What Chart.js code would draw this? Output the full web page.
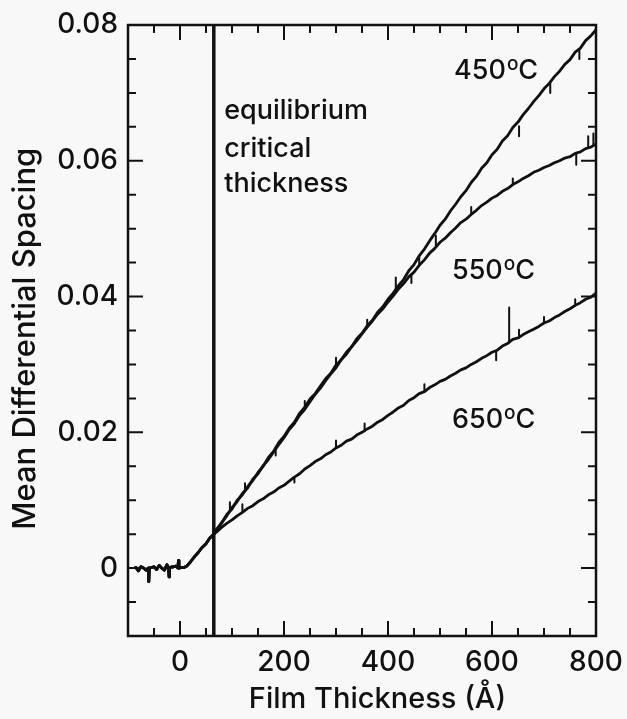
<!DOCTYPE html>
<html>
<head>
<meta charset="utf-8">
<title>Mean Differential Spacing vs Film Thickness</title>
<script src="https://cdn.jsdelivr.net/npm/chart.js@4.4.1/dist/chart.umd.min.js"></script>
<style>
  html, body { margin: 0; padding: 0; background: #f8f8f8; }
  #wrap { width: 627px; height: 719px; }
</style>
</head>
<body>
<div id="wrap"><canvas id="chart" width="627" height="719"></canvas></div>
<script>
// shared start of all three runs (flat, then the common rise)
const commonThick = [-85, -80, -75, -70, -65, -61, -60, -59, -50, -45, -40, -35, -30, -25, -22, -21,
  -20, -12, -8, -4, -3, -2, 3, 8, 13, 20, 28, 35, 42, 50, 57, 65];
const commonSpacing = [0.0001, -0.0004, 0.0002, 0, -0.0003, 0, -0.002, 0, 0.0002, -0.0002, 0.0004, 0, -0.0003, 0.0005, 0, -0.0013,
  0.0001, 0.0002, 0.0003, 0, 0.0011, 0, 0.0001, 0.0001, 0.0003, 0.0009, 0.0017, 0.0023, 0.003, 0.0036, 0.0044, 0.005];

const thicknessGrid = [
  70, 80, 90, 100, 110, 120, 130, 140, 150, 160,
  170, 180, 190, 200, 210, 220, 230, 240, 250, 260,
  270, 280, 290, 300, 310, 320, 330, 340, 350, 360,
  370, 380, 390, 400, 410, 420, 430, 440, 450, 460,
  470, 480, 490, 500, 510, 520, 530, 540, 550, 560,
  570, 580, 590, 600, 610, 620, 630, 640, 650, 660,
  670, 680, 690, 700, 710, 720, 730, 740, 750, 760,
  770, 780, 790, 800];

const spacing450 = [
  0.0057, 0.0066, 0.0079, 0.0087, 0.0100, 0.0108, 0.0120, 0.0129, 0.0141, 0.0150,
  0.0163, 0.0172, 0.0185, 0.0194, 0.0206, 0.0215, 0.0228, 0.0237, 0.0249, 0.0257,
  0.0268, 0.0279, 0.0287, 0.0299, 0.0307, 0.0318, 0.0326, 0.0338, 0.0346, 0.0357,
  0.0365, 0.0377, 0.0385, 0.0396, 0.0405, 0.0416, 0.0425, 0.0438, 0.0447, 0.0460,
  0.0470, 0.0482, 0.0493, 0.0505, 0.0514, 0.0526, 0.0536, 0.0547, 0.0556, 0.0568,
  0.0577, 0.0589, 0.0597, 0.0609, 0.0617, 0.0629, 0.0637, 0.0649, 0.0657, 0.0668,
  0.0677, 0.0687, 0.0696, 0.0706, 0.0714, 0.0724, 0.0732, 0.0742, 0.0749, 0.0760,
  0.0766, 0.0777, 0.0784, 0.0793];

const spacing550 = [
  0.0056, 0.0067, 0.0077, 0.0089, 0.0098, 0.0110, 0.0118, 0.0131, 0.0139, 0.0151,
  0.0160, 0.0171, 0.0182, 0.0192, 0.0204, 0.0213, 0.0225, 0.0234, 0.0245, 0.0256,
  0.0265, 0.0276, 0.0286, 0.0295, 0.0307, 0.0315, 0.0326, 0.0335, 0.0345, 0.0355,
  0.0364, 0.0374, 0.0382, 0.0392, 0.0401, 0.0411, 0.0419, 0.0429, 0.0436, 0.0446,
  0.0454, 0.0464, 0.0471, 0.0480, 0.0486, 0.0494, 0.0501, 0.0509, 0.0514, 0.0521,
  0.0527, 0.0534, 0.0539, 0.0545, 0.0549, 0.0555, 0.0559, 0.0565, 0.0569, 0.0574,
  0.0578, 0.0583, 0.0586, 0.0590, 0.0593, 0.0597, 0.0600, 0.0604, 0.0606, 0.0611,
  0.0613, 0.0618, 0.0620, 0.0625];

const spacing650 = [
  0.0053, 0.0060, 0.0066, 0.0071, 0.0077, 0.0082, 0.0088, 0.0092, 0.0098, 0.0102,
  0.0108, 0.0112, 0.0118, 0.0122, 0.0128, 0.0134, 0.0139, 0.0146, 0.0151, 0.0157,
  0.0161, 0.0167, 0.0171, 0.0177, 0.0181, 0.0187, 0.0190, 0.0196, 0.0200, 0.0205,
  0.0209, 0.0215, 0.0219, 0.0225, 0.0230, 0.0236, 0.0240, 0.0247, 0.0251, 0.0257,
  0.0260, 0.0266, 0.0270, 0.0275, 0.0278, 0.0283, 0.0287, 0.0292, 0.0295, 0.0300,
  0.0304, 0.0309, 0.0313, 0.0318, 0.0321, 0.0327, 0.0331, 0.0337, 0.0339, 0.0344,
  0.0348, 0.0352, 0.0356, 0.0361, 0.0364, 0.0369, 0.0373, 0.0378, 0.0382, 0.0387,
  0.0391, 0.0396, 0.0399, 0.0405];

// noise spikes: thickness, value on the curve, value at the spike tip
const spikeThick450 = [125, 184, 300, 415, 460, 652, 712, 768];
const spikeBase450 = [0.0114, 0.0178, 0.0299, 0.0410, 0.0460, 0.0651, 0.0716, 0.0765];
const spikeTip450 = [0.0125, 0.0166, 0.0310, 0.0428, 0.0447, 0.0636, 0.0700, 0.0750];

const spikeThick550 = [96, 240, 360, 445, 492, 560, 640, 762, 785, 795];
const spikeBase550 = [0.0085, 0.0234, 0.0355, 0.0432, 0.0474, 0.0521, 0.0565, 0.0611, 0.0619, 0.0622];
const spikeTip550 = [0.0097, 0.0246, 0.0366, 0.0420, 0.0490, 0.0532, 0.0574, 0.0594, 0.0636, 0.0640];

const spikeThick650 = [120, 220, 300, 355, 470, 608, 633, 652, 700, 760];
const spikeBase650 = [0.0082, 0.0134, 0.0177, 0.0202, 0.0260, 0.0320, 0.0332, 0.0340, 0.0361, 0.0387];
const spikeTip650 = [0.0094, 0.0126, 0.0188, 0.0213, 0.0271, 0.0306, 0.0384, 0.0351, 0.0370, 0.0396];

const criticalThickness = 65;

const xTickLabels = [0, 200, 400, 600, 800];
const yTickLabels = [0, 0.02, 0.04, 0.06, 0.08];
const xMinorTicks = [-50, 0, 50, 100, 150, 200, 250, 300, 350, 400, 450, 500, 550, 600, 650, 700, 750];
const yMinorTicks = [-0.005, 0, 0.005, 0.01, 0.015, 0.02, 0.025, 0.03, 0.035, 0.04, 0.045, 0.05,
  0.055, 0.06, 0.065, 0.07, 0.075];

const INK = "#111111";
const FONT = "Inter";
Chart.defaults.font.family = FONT;
Chart.defaults.color = INK;

function toPoints(xs, ys) {
  return xs.map((x, i) => ({ x: x, y: ys[i] }));
}

function curve(values) {
  return toPoints(commonThick, commonSpacing).concat(toPoints(thicknessGrid, values));
}

function spikes(xs, base, tip) {
  const pts = [];
  xs.forEach((x, i) => {
    pts.push({ x: x, y: base[i] }, { x: x, y: tip[i] }, { x: x, y: null });
  });
  return pts;
}

function lineSet(label, data, width) {
  return {
    label: label,
    data: data,
    showLine: true,
    borderColor: INK,
    borderWidth: width,
    borderJoinStyle: "round",
    borderCapStyle: "round",
    pointRadius: 0,
    fill: false,
    spanGaps: false,
    tension: 0
  };
}

// inward ticks on all four sides plus the frame
const frameTicks = {
  id: "frameTicks",
  afterDatasetsDraw(chart) {
    const { ctx, chartArea: a, scales: { x, y } } = chart;
    ctx.save();
    ctx.strokeStyle = INK;
    ctx.lineWidth = 2;
    ctx.beginPath();
    xMinorTicks.forEach((v) => {
      const px = x.getPixelForValue(v);
      const len = xTickLabels.includes(v) ? 15 : 8;
      ctx.moveTo(px, a.bottom); ctx.lineTo(px, a.bottom - len);
      ctx.moveTo(px, a.top); ctx.lineTo(px, a.top + len);
    });
    yMinorTicks.forEach((v) => {
      const py = y.getPixelForValue(v);
      const len = yTickLabels.includes(v) ? 15 : 8;
      ctx.moveTo(a.left, py); ctx.lineTo(a.left + len, py);
      ctx.moveTo(a.right, py); ctx.lineTo(a.right - len, py);
    });
    ctx.stroke();
    ctx.lineWidth = 2.5;
    ctx.strokeRect(a.left, a.top, a.right - a.left, a.bottom - a.top);
    ctx.restore();
  }
};

// curve names and the critical thickness note
const notes = {
  id: "notes",
  afterDraw(chart) {
    const { ctx, scales: { x, y } } = chart;
    ctx.save();
    ctx.fillStyle = INK;
    ctx.textBaseline = "alphabetic";
    ctx.textAlign = "left";

    ctx.font = "500 27px " + FONT;
    const lines = ["equilibrium", "critical", "thickness"];
    const lineY = [0.0662, 0.0606, 0.0554];
    lines.forEach((t, i) => {
      ctx.fillText(t, x.getPixelForValue(85), y.getPixelForValue(lineY[i]));
    });

    const temps = [["450", 527, 0.0721], ["550", 523, 0.0426], ["650", 523, 0.0206]];
    temps.forEach(([t, tx, ty]) => {
      let px = x.getPixelForValue(tx);
      const py = y.getPixelForValue(ty);
      ctx.font = "500 27px " + FONT;
      ctx.fillText(t, px, py);
      px += ctx.measureText(t).width + 1;
      ctx.font = "500 19px " + FONT;
      ctx.fillText("o", px, py - 9);
      px += ctx.measureText("o").width;
      ctx.font = "500 27px " + FONT;
      ctx.fillText("C", px, py);
    });
    ctx.restore();
  }
};

const ctx = document.getElementById("chart");
new Chart(ctx, {
  type: "scatter",
  data: {
    datasets: [
      lineSet("450°C", curve(spacing450), 2.8),
      lineSet("550°C", curve(spacing550), 2.8),
      lineSet("650°C", curve(spacing650), 2.8),
      lineSet("450°C noise", spikes(spikeThick450, spikeBase450, spikeTip450), 2),
      lineSet("550°C noise", spikes(spikeThick550, spikeBase550, spikeTip550), 2),
      lineSet("650°C noise", spikes(spikeThick650, spikeBase650, spikeTip650), 2),
      lineSet("critical thickness", [{ x: criticalThickness, y: -0.01 }, { x: criticalThickness, y: 0.08 }], 3.5)
    ]
  },
  options: {
    responsive: false,
    animation: false,
    layout: { padding: { left: 6, right: 31, top: 25, bottom: 0 } },
    plugins: {
      legend: { display: false },
      tooltip: { enabled: false }
    },
    scales: {
      x: {
        type: "linear",
        min: -100,
        max: 800,
        grid: { display: false, drawTicks: false },
        border: { display: false },
        afterBuildTicks: (s) => { s.ticks = xTickLabels.map((v) => ({ value: v })); },
        afterFit: (s) => { s.height = 83; s.paddingLeft = 0; s.paddingRight = 0; },
        ticks: { font: { size: 28, weight: 500 }, padding: 10, maxRotation: 0, autoSkip: false },
        title: {
          display: true,
          // leading spaces nudge the title right, as in the original
          text: "\u00a0\u00a0\u00a0\u00a0Film Thickness (Å)",
          font: { size: 29, weight: 500 },
          padding: { top: 0, bottom: 2 }
        }
      },
      y: {
        type: "linear",
        min: -0.01,
        max: 0.08,
        grid: { display: false, drawTicks: false },
        border: { display: false },
        afterBuildTicks: (s) => { s.ticks = yTickLabels.map((v) => ({ value: v })); },
        afterFit: (s) => { s.width = 122; s.paddingTop = 0; s.paddingBottom = 0; },
        ticks: { font: { size: 28, weight: 500 }, padding: 10, callback: (v) => String(v) },
        title: {
          display: true,
          text: "Mean Differential Spacing\u00a0\u00a0",
          font: { size: 31, weight: 500 },
          padding: { top: 1, bottom: 0 }
        }
      }
    }
  },
  plugins: [frameTicks, notes]
});
</script>
</body>
</html>
